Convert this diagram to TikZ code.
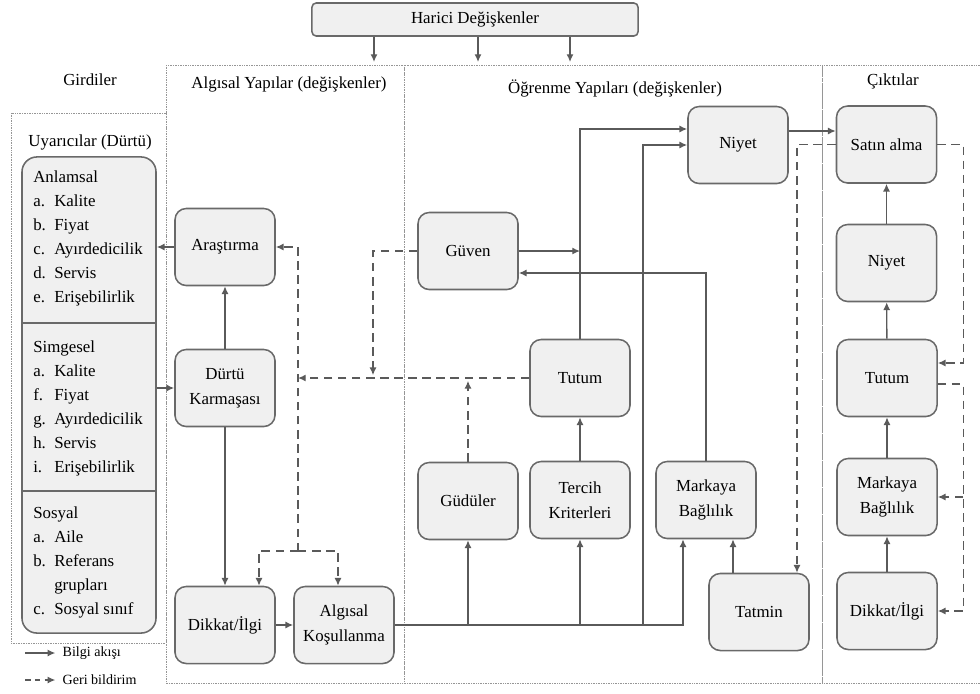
\documentclass[tikz,border=0pt]{standalone}
\usepackage{fontspec}
\setmainfont{Liberation Serif}
\definecolor{boxfill}{RGB}{240,240,240}
\definecolor{boxdraw}{RGB}{105,105,105}
\definecolor{linegray}{RGB}{90,90,90}
\definecolor{dotgray}{RGB}{150,150,150}
\usetikzlibrary{arrows.meta,positioning,calc}

\newcommand{\itm}[2]{\makebox[0.525cm][l]{#1}#2}

\begin{document}
\begin{tikzpicture}[x=0.025cm, y=-0.025cm,
    procbox/.style={rectangle, rounded corners=8pt, draw=boxdraw, line width=1.1pt,
                    fill=boxfill, minimum width=2.5cm, minimum height=1.925cm,
                    align=center, inner sep=2pt, font=\fontsize{12}{17.8}\selectfont},
    headbox/.style={rectangle, rounded corners=3pt, draw=boxdraw, line width=1.1pt,
                    fill=boxfill, minimum width=8.15cm, minimum height=0.825cm,
                    font=\fontsize{12}{14}\selectfont},
    panel/.style={draw=dotgray, line width=0.6pt, dash pattern=on 0.5pt off 0.7pt},
    ptitle/.style={font=\fontsize{12}{14}\selectfont},
    grp/.style={anchor=north west, inner sep=0pt, align=left,
                font=\fontsize{12}{17.07}\selectfont},
    lgtxt/.style={anchor=west, inner sep=1pt, font=\fontsize{10}{12}\selectfont},
    arr/.style={-{Latex[length=5.5pt,width=5pt]}, draw=linegray, line width=1pt},
    fbarr/.style={arr, dash pattern=on 6pt off 4pt}
  ]
    \useasboundingbox (0,0) rectangle (980,693);

    % Panels
    \draw[panel] (11,113) rectangle (166,643);
    \draw[panel] (166,65) rectangle (404,683);
    \draw[panel] (404,65) rectangle (822,683);
    \draw[panel] (985,65) -- (822,65) -- (822,683) -- (985,683);

    \node[ptitle] (tgir) at (90,80)  {Girdiler};
    \node[ptitle] (talg) at (289,84) {Algısal Yapılar (değişkenler)};
    \node[ptitle] (togr) at (615,88) {Öğrenme Yapıları (değişkenler)};
    \node[ptitle] (tcik) at (893,81) {Çıktılar};

    % External variables
    \node[headbox] (harici) at (475,19.5) {Harici Değişkenler};
    \foreach \hx [count=\i] in {374,478,570} {
      \coordinate (h\i) at (\hx,62);
      \draw[arr] (harici.south -| h\i) -- (h\i);
    }

    % Stimuli
    \node[ptitle] (tuya) at (90,142) {Uyarıcılar (Dürtü)};
    \node[draw=boxdraw, line width=1.1pt, fill=boxfill, rounded corners=0.375cm,
          minimum width=3.35cm, minimum height=11.9cm, inner sep=0pt] (stim) at (89,395) {};
    \coordinate (d1) at (0,323);
    \coordinate (d2) at (0,491);
    \draw[boxdraw, line width=1.1pt] (stim.west |- d1) -- (stim.east |- d1);
    \draw[boxdraw, line width=1.1pt] (stim.west |- d2) -- (stim.east |- d2);

    \node[grp] (anlam) at (33,170.5) {Anlamsal\\\itm{a.}{Kalite}\\\itm{b.}{Fiyat}\\
      \itm{c.}{Ayırdedicilik}\\\itm{d.}{Servis}\\\itm{e.}{Erişebilirlik}};
    \node[grp] (simge) at (33,340.5) {Simgesel\\\itm{a.}{Kalite}\\\itm{f.}{Fiyat}\\
      \itm{g.}{Ayırdedicilik}\\\itm{h.}{Servis}\\\itm{i.}{Erişebilirlik}};
    \node[grp] (sosyal) at (33,506.5) {Sosyal\\\itm{a.}{Aile}\\\itm{b.}{Referans}\\
      \itm{}{grupları}\\\itm{c.}{Sosyal sınıf}};

    % Perceptual constructs
    \node[procbox] (arastirma) at (225,247) {Araştırma};
    \node[procbox] (durtu)     at (225,388) {Dürtü\\Karmaşası};
    \node[procbox] (dikkat)    at (225,625) {Dikkat/İlgi};
    \node[procbox] (kosul)     at (344,625) {Algısal\\Koşullanma};

    % Learning constructs
    \node[procbox] (guven)   at (468,251) {Güven};
    \node[procbox] (niyet)   at (738,145) {Niyet};
    \node[procbox] (tutum)   at (580,378) {Tutum};
    \node[procbox] (guduler) at (468,501) {Güdüler};
    \node[procbox] (tercih)  at (580,500) {Tercih\\Kriterleri};
    \node[procbox] (markaya) at (706,500) {Markaya\\Bağlılık};
    \node[procbox] (tatmin)  at (759,612) {Tatmin};

    % Outputs
    \node[procbox] (satin)    at (886.5,144.5) {Satın alma};
    \node[procbox] (niyetc)   at (886.5,263)   {Niyet};
    \node[procbox] (tutumc)   at (887,378)     {Tutum};
    \node[procbox] (markayac) at (887,497)     {Markaya\\Bağlılık};
    \node[procbox] (dikkatc)  at (887,611)     {Dikkat/İlgi};

    % Information flow
    \draw[arr] (arastirma.west) -- (arastirma.west -| stim.east);
    \draw[arr] (stim.east |- durtu.west) -- (durtu.west);
    \draw[arr] (durtu) -- (arastirma);
    \draw[arr] (durtu) -- (dikkat);
    \draw[arr] (dikkat) -- (kosul);

    \coordinate (mb) at ($(markaya.south)+(-23,0)$);
    \coordinate (bx) at (643,625);
    \draw[arr] (kosul.east) -| (mb);
    \draw[arr] (kosul.east -| guduler) -- (guduler.south);
    \draw[arr] (kosul.east -| tercih) -- (tercih.south);
    \draw[arr] (bx) |- (niyet.west);
    \draw[arr] (tercih) -- (tutum);
    \draw[arr] (tutum.north) |- ($(niyet.west)+(0,-16)$);
    \draw[arr] (guven.east) -- (guven.east -| tutum.north);
    \draw[arr] (markaya.north) |- ($(guven.east)+(0,22)$);
    \draw[arr] ($(tatmin.north)+(-26,0)$) coordinate (t0) -- (t0 |- markaya.south);
    \draw[arr] ($(niyet.east)+(0,-14)$) coordinate (n0) -- (n0 -| satin.west);

    \draw[arr] (dikkatc) -- (markayac);
    \draw[arr] (markayac) -- (tutumc);
    \draw[arr] (tutumc) -- (niyetc);
    \draw[arr] (niyetc) -- (satin);

    % Feedback
    \coordinate (fbx) at (298,551);
    \draw[fbarr] (fbx) -- (fbx |- arastirma.east) -- (arastirma.east);
    \draw[fbarr] (fbx) -| ($(dikkat.north)+(34,0)$);
    \draw[fbarr] (fbx) -| ($(kosul.north)+(-6,0)$);
    \draw[fbarr] (tutum.west) -- (tutum.west -| fbx);
    \draw[fbarr, shorten >=2pt] (guduler.north) -- (guduler.north |- tutum.west);
    \coordinate (gx) at (373,251);
    \draw[fbarr, shorten >=2pt] (guven.west) -- (gx) -- (gx |- tutum.west);

    \draw[fbarr] (satin.west) -| ($(tatmin.north)+(38,0)$);
    \coordinate (fr) at ($(satin.east)+(26,0)$);
    \draw[fbarr] (satin.east) -- (fr) |- ($(tutumc.east)+(0,-15)$);
    \draw[fbarr] ($(tutumc.east)+(0,6)$) -| (fr |- dikkatc.east) -- (dikkatc.east);
    \draw[fbarr] (fr |- markayac.east) -- (markayac.east);

    % Legend
    \coordinate (l1) at (25,653);
    \coordinate (l2) at (25,680);
    \node[lgtxt] (lg1) at (61,653) {Bilgi akışı};
    \node[lgtxt] (lg2) at (61,680) {Geri bildirim};
    \draw[arr, shorten >=4pt] (l1) -- (lg1.west);
    \draw[arr, dash pattern=on 4pt off 3pt, shorten >=4pt] (l2) -- (lg2.west);
  \end{tikzpicture}
\end{document}
